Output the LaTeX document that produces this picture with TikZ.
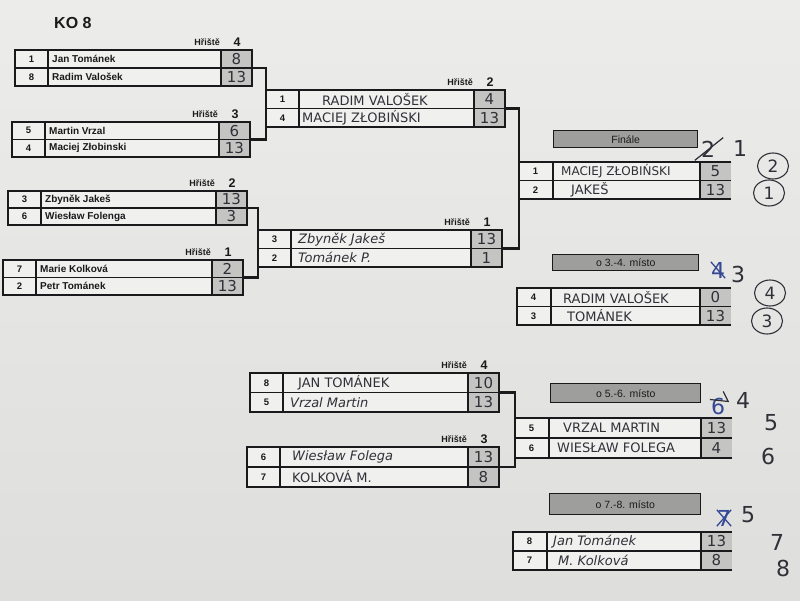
\documentclass[tikz,border=0pt]{standalone}
\usepackage{fontspec}
\setmainfont{Liberation Sans}
\newfontfamily\hand{DejaVu Sans}
\usetikzlibrary{calc,shapes.geometric}
\definecolor{papertop}{RGB}{236,236,234}
\definecolor{paperbot}{RGB}{222,222,220}
\definecolor{boxin}{RGB}{240,240,238}
\definecolor{scorecell}{RGB}{196,196,194}
\definecolor{headfill}{RGB}{158,158,156}
\definecolor{ink}{RGB}{26,26,28}
\definecolor{pen}{RGB}{48,48,56}
\definecolor{bluepen}{RGB}{52,72,150}
\tikzset{
  boxframe/.style={draw=ink, line width=1.6pt, inner sep=0pt, outer sep=0pt, anchor=north west},
  boxhold/.style={inner sep=0pt, outer sep=0pt, anchor=north west},
  boxline/.style={draw=ink, line width=1.6pt},
  conn/.style={draw=ink, line width=2.4pt},
  seedtxt/.style={font=\fontsize{9.5}{10}\selectfont\bfseries, text=ink, inner sep=0pt},
  printed/.style={font=\fontsize{10}{11}\selectfont\bfseries, text=ink, inner sep=0pt},
  handcaps/.style={font=\hand\fontsize{13}{14}\selectfont, text=pen, inner sep=0pt},
  handcurs/.style={font=\hand\itshape\fontsize{13}{14}\selectfont, text=pen, inner sep=0pt},
  scoretxt/.style={font=\hand\fontsize{15}{16}\selectfont, text=pen, inner sep=0pt},
  courtlbl/.style={font=\fontsize{9}{10}\selectfont\bfseries, text=ink, inner sep=0pt},
  courtnum/.style={font=\fontsize{12.5}{13}\selectfont\bfseries, text=ink, inner sep=0pt},
  headbar/.style={draw=ink, line width=1.4pt, fill=headfill, inner sep=0pt, anchor=north west,
    font=\fontsize{10.5}{11}\selectfont, text=ink},
  annot/.style={font=\hand\fontsize{22}{23}\selectfont, text=pen, inner sep=0pt},
  circ/.style={ellipse, draw=pen, line width=1.1pt, minimum width=31pt, minimum height=26pt,
    font=\hand\fontsize{17}{18}\selectfont, text=pen, inner sep=0pt},
  penline/.style={draw=pen, line width=1.2pt},
  blueline/.style={draw=bluepen, line width=1.3pt}
}
% closed match box: name, x, y, w, h
\newcommand{\matchbox}[5]{%
  \fill[boxin] (#2,#3) rectangle ++(#4,#5);
  \fill[scorecell] (#2+#4-31,#3) rectangle ++(31,#5);
  \node[boxframe, minimum width=#4pt, minimum height=#5pt] (#1) at (#2,#3) {};
  \draw[boxline] (#1.west) -- (#1.east);
  \draw[boxline] ($(#1.north west)+(33,0)$) -- ($(#1.south west)+(33,0)$);
  \draw[boxline] ($(#1.north east)+(-31,0)$) -- ($(#1.south east)+(-31,0)$);
}
% result box open on the right
\newcommand{\openbox}[5]{%
  \fill[boxin] (#2,#3) rectangle ++(#4,#5);
  \fill[scorecell] (#2+#4-31,#3) rectangle ++(31,#5);
  \node[boxhold, minimum width=#4pt, minimum height=#5pt] (#1) at (#2,#3) {};
  \draw[boxline] (#1.north east) -- (#1.north west) -- (#1.south west) -- (#1.south east);
  \draw[boxline] (#1.west) -- (#1.east);
  \draw[boxline] ($(#1.north west)+(34,0)$) -- ($(#1.south west)+(34,0)$);
  \draw[boxline] ($(#1.north east)+(-31,0)$) -- ($(#1.south east)+(-31,0)$);
}
% row: box, fraction, seed, xshift of name, name style, name, score
\newcommand{\mrow}[7]{%
  \coordinate (#1-L#3) at ($(#1.north west)!#2!(#1.south west)$);
  \coordinate (#1-R#3) at ($(#1.north east)!#2!(#1.south east)$);
  \node[seedtxt] (#1-s#3) at ($(#1-L#3)+(16.5,0)$) {#3};
  \node[#5, anchor=west] (#1-n#3) at ($(#1-L#3)+(#4,0)$) {#6};
  \node[scoretxt] (#1-p#3) at ($(#1-R#3)+(-15.5,0)$) {#7};
}
\newcommand{\court}[2]{%
  \node[courtlbl, anchor=east] (#1-hl) at ($(#1.north east)+(-32,-8)$) {Hřiště};
  \node[courtnum] (#1-hn) at ($(#1.north east)+(-15,-8)$) {#2};
}
\begin{document}
\begin{tikzpicture}[x=1pt, y=-1pt]
\useasboundingbox (0,0) rectangle (800,601);
\shade[top color=papertop, bottom color=paperbot] (0,0) rectangle (800,601);

\node[font=\fontsize{16}{17}\selectfont\bfseries, text=ink, anchor=west, inner sep=0pt] (title) at (54,23) {KO 8};

% quarter-finals
\matchbox{qf1}{15}{50}{237}{36}
\court{qf1}{4}
\mrow{qf1}{0.25}{1}{37}{printed}{Jan Tománek}{8}
\mrow{qf1}{0.75}{8}{37}{printed}{Radim Valošek}{13}

\matchbox{qf2}{12}{122}{238}{35}
\court{qf2}{3}
\mrow{qf2}{0.25}{5}{37}{printed}{Martin Vrzal}{6}
\mrow{qf2}{0.75}{4}{37}{printed}{Maciej Złobinski}{13}

\matchbox{qf3}{8}{191}{239}{34}
\court{qf3}{2}
\mrow{qf3}{0.25}{3}{37}{printed}{Zbyněk Jakeš}{13}
\mrow{qf3}{0.75}{6}{37}{printed}{Wiesław Folenga}{3}

\matchbox{qf4}{3}{260}{240}{35}
\court{qf4}{1}
\mrow{qf4}{0.25}{7}{37}{printed}{Marie Kolková}{2}
\mrow{qf4}{0.75}{2}{37}{printed}{Petr Tománek}{13}

% semi-finals
\matchbox{sf1}{266}{90}{239}{37}
\court{sf1}{2}
\mrow{sf1}{0.25}{1}{56}{handcaps}{RADIM VALOŠEK}{4}
\mrow{sf1}{0.75}{4}{36}{handcaps}{MACIEJ ZŁOBIŃSKI}{13}

\matchbox{sf2}{258}{230}{244}{37}
\court{sf2}{1}
\mrow{sf2}{0.25}{3}{40}{handcurs}{Zbyněk Jakeš}{13}
\mrow{sf2}{0.75}{2}{40}{handcurs}{Tománek P.}{1}

% final and 3rd place
\node[headbar, minimum width=144pt, minimum height=17pt] (hfin) at (553,130) {Finále};
\openbox{fin}{519}{162}{212}{37}
\mrow{fin}{0.25}{1}{42}{handcaps, font=\hand\fontsize{12}{13}\selectfont}{MACIEJ ZŁOBIŃSKI}{5}
\mrow{fin}{0.75}{2}{52}{handcaps}{JAKEŠ}{13}

\node[headbar, minimum width=146pt, minimum height=16pt] (h34) at (552,254) {o 3.-4. místo};
\openbox{m34}{517}{288}{214}{37}
\mrow{m34}{0.25}{4}{46}{handcaps}{RADIM VALOŠEK}{0}
\mrow{m34}{0.75}{3}{50}{handcaps}{TOMÁNEK}{13}

% placement bracket 5-8
\matchbox{pb1}{250}{373}{249}{39}
\court{pb1}{4}
\mrow{pb1}{0.25}{8}{48}{handcaps}{JAN TOMÁNEK}{10}
\mrow{pb1}{0.75}{5}{40}{handcurs}{Vrzal Martin}{13}

\matchbox{pb2}{247}{447}{252}{40}
\court{pb2}{3}
\mrow{pb2}{0.25}{6}{45}{handcurs}{Wiesław Folega}{13}
\mrow{pb2}{0.75}{7}{45}{handcaps}{KOLKOVÁ M.}{8}

\node[headbar, minimum width=150pt, minimum height=19pt] (h56) at (550,383) {o 5.-6. místo};
\openbox{m56}{515}{418}{217}{40}
\mrow{m56}{0.25}{5}{48}{handcaps}{VRZAL MARTIN}{13}
\mrow{m56}{0.75}{6}{42}{handcaps}{WIESŁAW FOLEGA}{4}

\node[headbar, minimum width=151pt, minimum height=21pt] (h78) at (549,493) {o 7.-8. místo};
\openbox{m78}{513}{532}{219}{38}
\mrow{m78}{0.25}{8}{40}{handcurs}{Jan Tománek}{13}
\mrow{m78}{0.75}{7}{45}{handcurs}{M. Kolková}{8}

% connectors
\draw[conn] (qf1.east) -| (sf1.west) |- (qf2.east);
\draw[conn] (qf3.east) -| (sf2.west) |- (qf4.east);
\draw[conn] (sf1.east) -| (fin.west) |- (sf2.east);
\draw[conn] (pb1.east) -| (m56.west) |- (pb2.east);

% handwritten annotations
\node[annot] (a2) at (708,149) {2};
\node[annot] (a1) at (740,148) {1};
\draw[penline] ($(a2.south west)+(-6,3)$) -- ($(a2.north east)+(8,-3)$);
\node[circ] (c2) at (773,166) {2};
\node[circ] (c1) at (769,193) {1};

\node[annot, text=bluepen] (a4) at (718,270) {4};
\node[annot] (a3) at (738,274) {3};
\draw[blueline] (a4.north west) -- (a4.south east);
\node[circ] (c4) at (770,293) {4};
\node[circ] (c3) at (767,321) {3};

\node[annot, text=bluepen] (a6) at (718,406) {6};
\draw[penline] ($(a6.north west)+(-1,2)$) -- ($(a6.north east)+(3,4)$) -- ($(a6.north east)+(-2,-6)$);
\node[annot] (a64) at (743,400) {4};
\node[annot] (p5) at (771,423) {5};
\node[annot] (p6) at (768,456) {6};

\node[annot, text=bluepen] (a7) at (724,518) {7};
\draw[blueline] (a7.north west) -- (a7.south east);
\draw[blueline] (a7.south west) -- (a7.north east);
\node[annot] (a5) at (748,515) {5};
\node[annot] (p7) at (777,542) {7};
\node[annot] (p8) at (783,568) {8};
\end{tikzpicture}
\end{document}
